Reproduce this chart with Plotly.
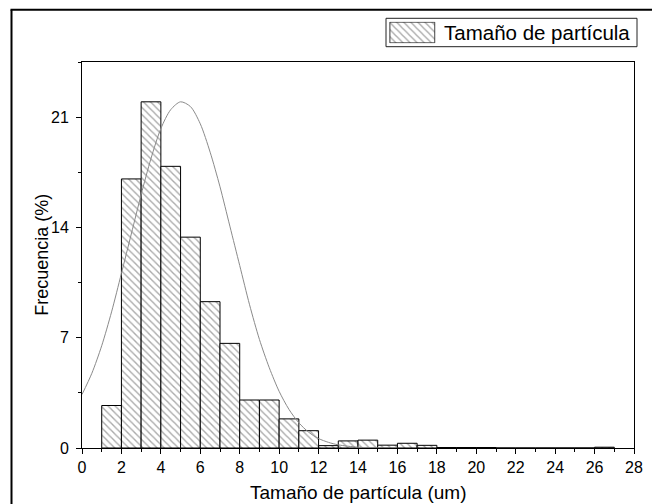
import plotly.graph_objects as go

# ---- data ----
bin_left = [1, 2, 3, 4, 5, 6, 7, 8, 9, 10, 11, 12, 13, 14, 15, 16, 17, 18, 19, 20,
            21, 22, 23, 24, 25, 26]
freq = [2.7, 17.1, 22.0, 17.9, 13.4, 9.3, 6.65, 3.05, 3.05, 1.85, 1.1, 0.15, 0.45,
        0.5, 0.18, 0.3, 0.17, 0.03, 0.03, 0.03, 0, 0, 0, 0, 0, 0.05]
curve_x = [0, 0.5, 1, 1.5, 2, 2.5, 3, 3.5, 4, 4.5, 5, 5.5, 6, 6.5, 7, 7.5, 8, 8.5,
           9, 9.5, 10, 10.5, 11, 11.5, 12, 12.5, 13, 14, 15, 16]
curve_y = [3.4, 4.75, 6.5, 8.65, 11.1, 13.6, 16.1, 18.4, 20.3, 21.5, 22.0, 21.7,
           20.6, 18.8, 16.6, 14.1, 11.6, 9.1, 6.9, 5.1, 3.6, 2.45, 1.6, 1.0, 0.6,
           0.36, 0.2, 0.05, 0.01, 0.0]
x_ticks = [0, 2, 4, 6, 8, 10, 12, 14, 16, 18, 20, 22, 24, 26, 28]
y_ticks = [0, 7, 14, 21]
legend_label = "Tamaño de partícula"
x_title = "Tamaño de partícula (um)"
y_title = "Frecuencia (%)"

FONT = "Liberation Sans, Arial, sans-serif"
W, H = 652, 504
ML, MT, MB = 82, 10, 56
MR = W - 634
PW, PH = W - ML - MR, H - MT - MB


def px(xp):
    """window x pixel -> paper fraction"""
    return (xp - ML) / PW


def py(yp):
    """window y pixel -> paper fraction"""
    return (H - MB - yp) / PH


pattern = dict(shape="\\", fgcolor="#555555", bgcolor="white", size=5, solidity=0.28)

fig = go.Figure()
fig.add_trace(go.Bar(
    x=[b + 0.5 for b in bin_left], y=freq, width=1,
    marker=dict(color="white", pattern=pattern, line=dict(color="black", width=1)),
    showlegend=False, hoverinfo="skip",
))
fig.add_trace(go.Scatter(
    x=curve_x, y=curve_y, mode="lines",
    line=dict(color="#8a8a8a", width=1, shape="spline", smoothing=0.8),
    showlegend=False, cliponaxis=True, hoverinfo="skip",
))
# legend swatch (hatched key)
fig.add_trace(go.Bar(
    x=[0], y=[1], width=[1], xaxis="x2", yaxis="y2",
    marker=dict(color="white", pattern=pattern, line=dict(color="#333", width=1)),
    showlegend=False, hoverinfo="skip",
))

top_dom = py(61.7)
fig.update_layout(
    width=W, height=H,
    margin=dict(l=ML, r=MR, t=MT, b=MB),
    paper_bgcolor="white", plot_bgcolor="white",
    font=dict(family=FONT, size=16, color="black"),
    showlegend=False,
    bargap=0,
    xaxis=dict(
        domain=[0, 1], range=[0, 28], tickvals=x_ticks,
        ticks="outside", ticklen=5, tickwidth=1, tickcolor="black",
        minor=dict(dtick=1, tick0=0, ticks="outside", ticklen=3, tickcolor="black"),
        showline=True, linecolor="black", linewidth=1, mirror=True,
        showgrid=False, zeroline=False, tickfont=dict(size=16),
    ),
    yaxis=dict(
        domain=[0, top_dom], range=[0, 24.55], tickvals=y_ticks,
        ticks="outside", ticklen=5, tickwidth=1, tickcolor="black",
        minor=dict(dtick=3.5, tick0=0, ticks="outside", ticklen=3, tickcolor="black"),
        showline=True, linecolor="black", linewidth=1, mirror=True,
        showgrid=False, zeroline=False, tickfont=dict(size=16),
        ticklabelstandoff=4,
    ),
    xaxis2=dict(domain=[px(389), px(435.7)], range=[-0.52, 0.52], anchor="y2",
                visible=False, fixedrange=True),
    yaxis2=dict(domain=[py(43.3), py(21.7)], range=[-0.02, 1.02], anchor="x2",
                visible=False, fixedrange=True),
    shapes=[
        # legend box
        dict(type="rect", xref="paper", yref="paper",
             x0=px(386), x1=px(637), y0=py(46.7), y1=py(18.3),
             line=dict(color="#222", width=1), fillcolor="rgba(0,0,0,0)"),
        # outer frame: left and top edges only (others lie outside the picture)
        dict(type="line", xref="paper", yref="paper",
             x0=px(11.5), x1=px(11.5), y0=py(9.8), y1=py(504),
             line=dict(color="black", width=2)),
        dict(type="line", xref="paper", yref="paper",
             x0=px(10.5), x1=px(652), y0=py(9.8), y1=py(9.8),
             line=dict(color="black", width=2)),
    ],
    annotations=[
        dict(text=legend_label, xref="paper", yref="paper", x=px(442), y=py(32.5),
             xanchor="left", yanchor="middle", showarrow=False,
             font=dict(size=20.5, family=FONT)),
        dict(text=x_title, xref="paper", yref="paper", x=0.5, y=py(492),
             xanchor="center", yanchor="middle", showarrow=False,
             font=dict(size=19, family=FONT)),
        dict(text=y_title, xref="paper", yref="paper", x=px(42), y=py(254.7),
             xanchor="center", yanchor="middle", showarrow=False, textangle=-90,
             font=dict(size=18, family=FONT)),
    ],
)

# remove the default page margin so the figure fills the 652x504 window exactly
fig.write_html(
    "out.html",
    config={"displayModeBar": False, "staticPlot": True},
    post_script="document.body.style.margin='0';"
                "document.body.style.overflow='hidden';"
                "document.documentElement.style.overflow='hidden';",
)
